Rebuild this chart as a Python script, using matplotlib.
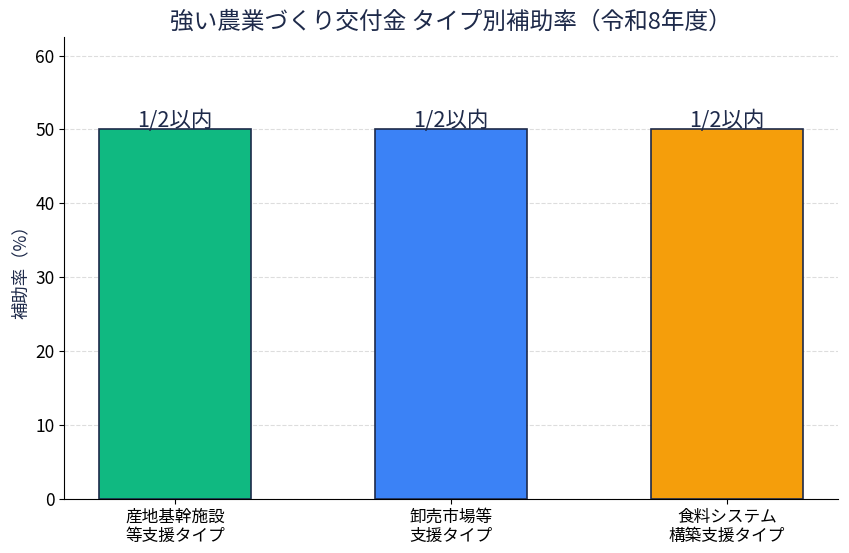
import matplotlib.pyplot as plt
import numpy as np

plt.rcParams['font.family'] = ['Noto Sans CJK JP', 'DejaVu Sans']

categories = ['産地基幹施設\n等支援タイプ', '卸売市場等\n支援タイプ', '食料システム\n構築支援タイプ']
rates = [50, 50, 50]
rate_labels = ['1/2以内', '1/2以内', '1/2以内']
colors = ['#10b981', '#3b82f6', '#f59e0b']

text_color = '#1e2a4a'

fig, ax = plt.subplots(figsize=(8.49, 5.53), dpi=100)
x = np.arange(len(categories))
bars = ax.bar(x, rates, width=0.55, color=colors, edgecolor='#1e2a4a', linewidth=1.2, zorder=3)

ax.bar_label(bars, labels=rate_labels, padding=-2, fontsize=15.5, color=text_color)

ax.set_xticks(x, categories, fontsize=12)
ax.tick_params(axis='y', labelsize=12.5)
ax.set_ylim(0, 62.5)
ax.set_ylabel('補助率（%）', fontsize=12.5, color=text_color)
ax.set_title('強い農業づくり交付金 タイプ別補助率（令和8年度）', fontsize=17, color=text_color)
ax.yaxis.grid(True, linestyle='--', color='#dddddd', linewidth=0.8, zorder=0)
ax.set_axisbelow(True)
ax.spines['top'].set_visible(False)
ax.spines['right'].set_visible(False)

fig.subplots_adjust(left=0.0755, right=0.987, top=0.933, bottom=0.098)
fig.savefig('out.png')
